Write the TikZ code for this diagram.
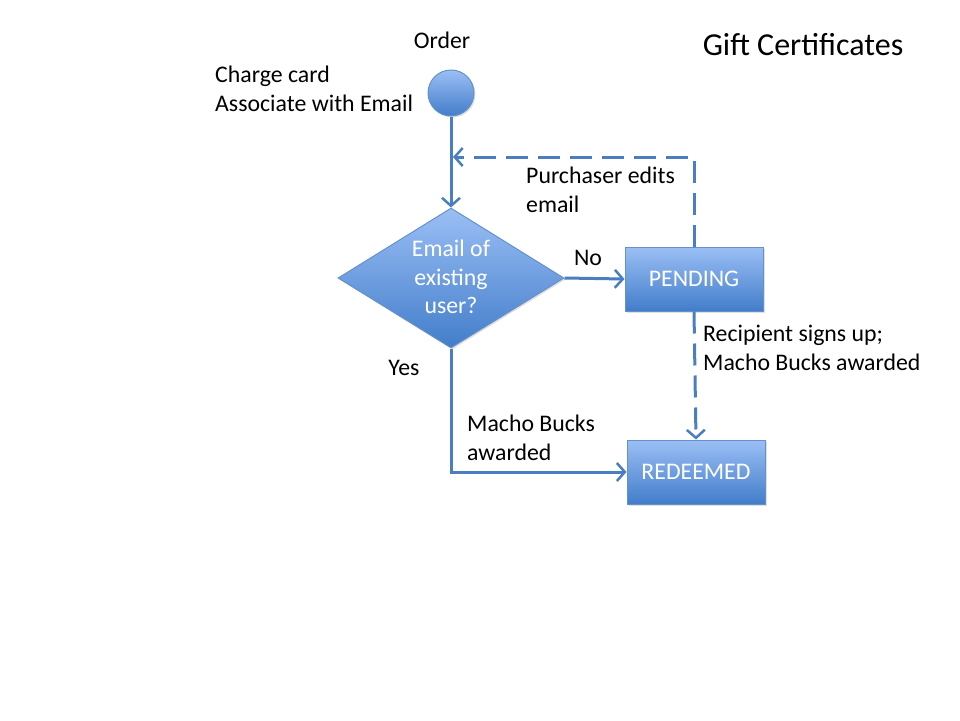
\documentclass[tikz,border=0pt]{standalone}
\usepackage{fontspec}
\setmainfont{Carlito}
\usetikzlibrary{shapes.geometric,arrows.meta,shadows}
\definecolor{lineblue}{RGB}{74,126,193}
\definecolor{topblue}{RGB}{155,191,245}
\definecolor{botblue}{RGB}{66,125,202}
\begin{document}
\begin{tikzpicture}[x=1pt,y=-1pt,
  every node/.style={font=\fontsize{23.8}{28.5}\selectfont},
  shapefill/.style={draw=lineblue!85!white, line width=1pt, top color=topblue, bottom color=botblue, text=white,
    drop shadow={shadow xshift=1.5pt, shadow yshift=-1.5pt, opacity=0.25}},
  conn/.style={draw=lineblue, line width=3pt, -{Straight Barb[length=8pt,width=18pt,line width=2.5pt]}},
  dconn/.style={conn, dash pattern=on 22pt off 10pt},
  lbl/.style={align=left, inner sep=0pt, anchor=west}]
\useasboundingbox (0,0) rectangle (960,720);
\node[circle, shapefill, minimum size=46pt, inner sep=0pt] (start) at (451,93) {};
\node[diamond, shapefill, minimum width=226pt, minimum height=140pt, inner sep=0pt, aspect=1.6] (dec) at (451,278) {};
\node[align=center, text=white, inner sep=0pt] (dectxt) at (451,277) {Email of\\existing\\user?};
\node[rectangle, shapefill, minimum width=138pt, minimum height=64pt] (pend) at (694,279) {PENDING};
\node[rectangle, shapefill, minimum width=138pt, minimum height=64pt] (red) at (696,472) {REDEEMED};
\coordinate (topr) at (694,157);
\coordinate (topl) at (453,157);
\coordinate (yescorner) at (451,472);
\draw[conn] (start.south) -- (dec.north);
\draw[conn] (dec.east) -- (pend.west);
\draw[dconn] (pend.north) -- (topr) -- (topl);
\draw[dconn] (pend.south) -- (red.north);
\draw[conn] (dec.south) -- (yescorner) -- (red.west);
\node (order) at (442,40) {Order};
\node[lbl] (charge) at (215,89) {Charge card\\Associate with Email};
\node[font=\fontsize{32}{36}\selectfont] (title) at (803,45) {Gift Certificates};
\node[lbl] (purch) at (526,190) {Purchaser edits\\email};
\node (no) at (588,258) {No};
\node[lbl] (recip) at (703,348) {Recipient signs up;\\Macho Bucks awarded};
\node (yes) at (404,368) {Yes};
\node[lbl] (macho) at (467,438) {Macho Bucks\\awarded};
\end{tikzpicture}
\end{document}
